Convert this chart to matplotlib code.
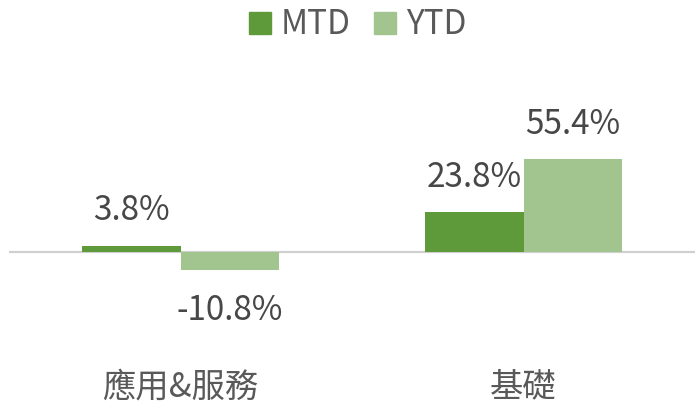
import numpy as np
import matplotlib.pyplot as plt
from matplotlib.patches import Patch

plt.rcParams['font.family'] = ['Noto Sans CJK TC', 'DejaVu Sans']

categories = ['應用&服務', '基礎']
mtd = [3.8, 23.8]
ytd = [-10.8, 55.4]
mtd_labels = ['3.8%', '23.8%']
ytd_labels = ['-10.8%', '55.4%']

c_mtd = '#5e9a3a'
c_ytd = '#a2c590'
c_text = '#595959'
c_val = '#474747'

W, H = 695, 401
fig = plt.figure(figsize=(W / 100, H / 100), dpi=100)
# axes fills the figure height, x from 9 px to the right edge
ax = fig.add_axes([9 / W, 0, 686 / W, 1])

x = np.arange(len(categories))
bw = 0.286
ax.bar(x - bw / 2, mtd, bw, color=c_mtd)
ax.bar(x + bw / 2, ytd, bw, color=c_ytd)
ax.axhline(0, color='#d0d0d0', linewidth=1.6, zorder=0)

ax.set_xlim(-0.5, 1.5)
ax.set_ylim(-88.7, 150)
ax.axis('off')

fs = 24
for xs, vals, labels in [(x - bw / 2, mtd, mtd_labels), (x + bw / 2, ytd, ytd_labels)]:
    for xi, v, s in zip(xs, vals, labels):
        off = 25 if v >= 0 else -29
        ax.annotate(s, (xi, v), xytext=(0, off), textcoords='offset points',
                    ha='center', va='center', fontsize=fs, color=c_val)

# category labels below the bars
for xi, c in zip(x, categories):
    ax.annotate(c, (xi, 0), xytext=(0, -97), textcoords='offset points',
                ha='center', va='center', fontsize=fs, color=c_text)

handles = [Patch(color=c_mtd, label='MTD'), Patch(color=c_ytd, label='YTD')]
fig.legend(handles=handles, loc='center', bbox_to_anchor=(358 / W, 1 - 25 / H), ncol=2,
           frameon=False, fontsize=fs, labelcolor=c_text, handlelength=0.65,
           handleheight=0.65, handletextpad=0.3, columnspacing=0.7,
           borderpad=0)

fig.savefig('out.png', dpi=100)
